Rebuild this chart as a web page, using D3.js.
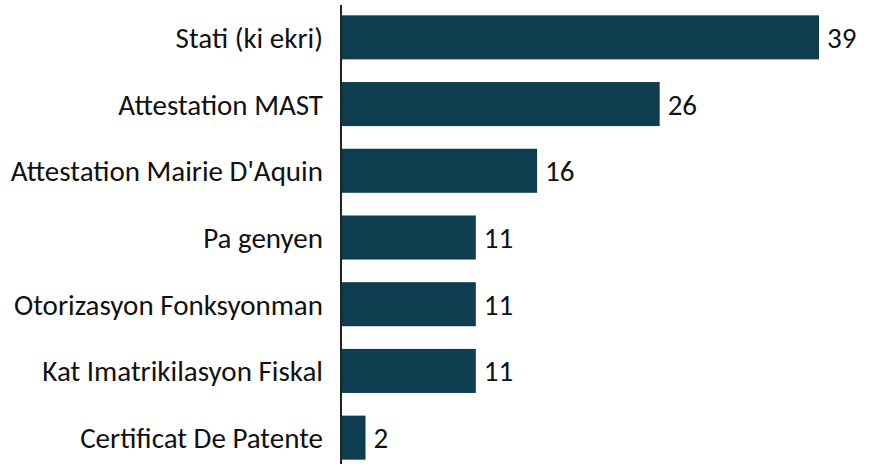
<!DOCTYPE html>
<html><head><meta charset="utf-8">
<script src="https://cdn.jsdelivr.net/npm/d3@7"></script>
<style>body{margin:0;background:#fff}svg{display:block}text{font-family:Carlito,Calibri,Lato,sans-serif}</style>
</head><body><svg id="c" width="871" height="464"></svg>
<script>
const categories = ["Stati (ki ekri)","Attestation MAST","Attestation Mairie D'Aquin","Pa genyen","Otorizasyon Fonksyonman","Kat Imatrikilasyon Fiskal","Certificat De Patente"];
const values = [39,26,16,11,11,11,2];

const svg = d3.select("#c");
const x0 = 341;
const fs = 29;
const x = d3.scaleLinear().domain([0,39]).range([x0, 819]);
const y = d3.scaleBand().domain(categories).range([4, 471]).paddingInner(0.34).paddingOuter(0.17);

svg.selectAll("rect.bar").data(values).join("rect").attr("class","bar")
  .attr("x", x(0)).attr("y",(d,i)=>y(categories[i])).attr("width",d=>x(d)-x(0)).attr("height",y.bandwidth())
  .attr("fill","#0d3d4f");

svg.selectAll("text.val").data(values).join("text").attr("class","val")
  .attr("x",d=>x(d)+8).attr("y",(d,i)=>y(categories[i])+y.bandwidth()/2).attr("dy","0.36em")
  .attr("font-size",fs).attr("fill","#111").text(d=>d);

const yAxis = d3.axisLeft(y).tickSize(0).tickPadding(18);
const g = svg.append("g").attr("transform",`translate(${x0},0)`).call(yAxis);
g.select(".domain").remove();
g.selectAll("text").attr("font-size",fs).attr("fill","#111").attr("dy","0.36em").style("font-family","Carlito,Calibri,Lato,sans-serif");
svg.append("line").attr("x1",x0).attr("x2",x0).attr("y1",5).attr("y2",464).attr("stroke","#222").attr("stroke-width",2);
</script></body></html>
